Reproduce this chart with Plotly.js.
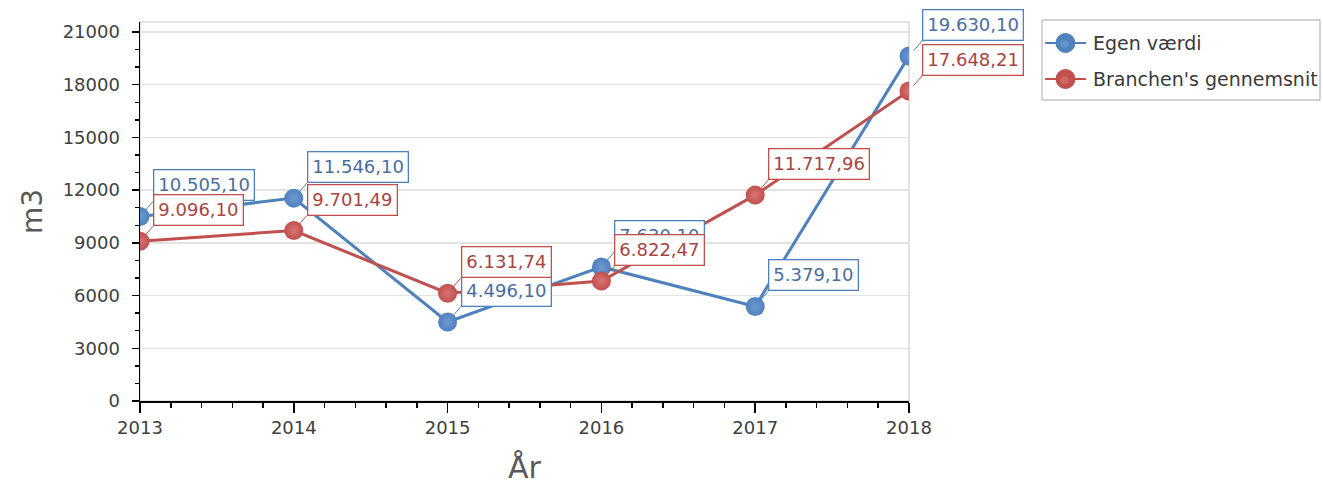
<!DOCTYPE html>
<html>
<head>
<meta charset="utf-8">
<script src="https://cdn.plot.ly/plotly-3.0.1.min.js"></script>
<style>html,body{margin:0;padding:0;background:#fff;}#chart{width:1323px;height:491px;}</style>
</head>
<body>
<div id="chart"></div>
<script>
const years = [2013, 2014, 2015, 2016, 2017, 2018];
const egenVaerdi = [10505.10, 11546.10, 4496.10, 7630.10, 5379.10, 19630.10];
const branchenSnit = [9096.10, 9701.49, 6131.74, 6822.47, 11717.96, 17648.21];
const seriesNames = ["Egen værdi", "Branchen's gennemsnit"];
const yTickVals = [0, 3000, 6000, 9000, 12000, 15000, 18000, 21000];
const yTickText = ['0', '3000', '6000', '9000', '12000', '15000', '18000', '21000'];

const BLUE = '#4F81BD', RED = '#C0504D';
const FONT = 'DejaVu Sans, Verdana, sans-serif';

// plot area geometry (pixels)
const W = 1323, H = 491;
const M = {l: 140, r: 414, t: 22, b: 90};
const PW = W - M.l - M.r, PH = H - M.t - M.b;
const px2x = p => (p - M.l) / PW;
const py2y = p => (H - M.b - p) / PH;

function fmtDK(v) {
  const parts = v.toFixed(2).split('.');
  const intPart = parts[0].replace(/\B(?=(\d{3})+(?!\d))/g, '.');
  return intPart + ',' + parts[1];
}

function trace(name, ys, color, center) {
  return {
    x: years, y: ys, name: name, type: 'scatter', mode: 'lines+markers',
    line: {color: color, width: 3},
    marker: {color: color, size: 19, gradient: {type: 'radial', color: center}, line: {width: 0}},
    cliponaxis: true, showlegend: false
  };
}

function labels(ys, color, textColor) {
  return ys.map((v, i) => ({
    x: years[i], y: v, xref: 'x', yref: 'y',
    text: fmtDK(v),
    showarrow: true, arrowhead: 0, arrowwidth: 1, arrowcolor: color,
    ax: 13, ay: -15, xanchor: 'left', yanchor: 'bottom', standoff: 7,
    bgcolor: '#ffffff', bordercolor: color, borderwidth: 1.3, borderpad: 4,
    font: {family: FONT, size: 18, color: textColor}
  }));
}

const data = [
  trace(seriesNames[0], egenVaerdi, BLUE, '#6f9bd2'),
  trace(seriesNames[1], branchenSnit, RED, '#d97571')
];

// custom legend (box, symbols, texts) placed in paper coordinates
const legendBox = {x0: 1042, x1: 1320, y0: 20, y1: 100};
const legendRows = [43, 79];
const legendColors = [BLUE, RED];
const legendCenters = ['#6f9bd2', '#d97571'];
const legShapes = [{
  type: 'rect', xref: 'paper', yref: 'paper',
  x0: px2x(legendBox.x0), x1: px2x(legendBox.x1), y0: py2y(legendBox.y1), y1: py2y(legendBox.y0),
  line: {color: '#a6a6a6', width: 1}, fillcolor: '#ffffff'
}];
const legAnn = [];
legendRows.forEach((ry, i) => {
  legShapes.push({type: 'line', xref: 'paper', yref: 'paper',
    x0: px2x(1045), x1: px2x(1086), y0: py2y(ry), y1: py2y(ry),
    line: {color: legendColors[i], width: 2}});
  legShapes.push({type: 'circle', xref: 'paper', yref: 'paper',
    x0: px2x(1056), x1: px2x(1075), y0: py2y(ry + 9.5), y1: py2y(ry - 9.5),
    line: {color: legendColors[i], width: 1}, fillcolor: legendColors[i]});
  legShapes.push({type: 'circle', xref: 'paper', yref: 'paper',
    x0: px2x(1060), x1: px2x(1069), y0: py2y(ry + 5), y1: py2y(ry - 3),
    line: {width: 0}, fillcolor: legendCenters[i], opacity: 0.6});
  legAnn.push({xref: 'paper', yref: 'paper', x: px2x(1091), y: py2y(ry),
    xanchor: 'left', yanchor: 'middle', showarrow: false, text: seriesNames[i],
    font: {family: FONT, size: 19, color: '#3a3a3a'}});
});

const layout = {
  width: W, height: H,
  margin: {l: M.l, r: M.r, t: M.t, b: M.b, pad: 0},
  paper_bgcolor: '#ffffff', plot_bgcolor: '#ffffff',
  showlegend: false,
  xaxis: {
    range: [2013, 2018], tickvals: years, ticktext: years.map(String),
    showgrid: false, zeroline: false,
    showline: true, linecolor: '#000000', linewidth: 1.5,
    ticks: 'outside', ticklen: 10, tickwidth: 1.5, tickcolor: '#000000',
    minor: {dtick: 0.2, ticks: 'outside', ticklen: 5, tickwidth: 1.5, tickcolor: '#000000', showgrid: false},
    tickfont: {family: FONT, size: 18, color: '#404040'},
    title: {text: 'År', font: {family: FONT, size: 30, color: '#595959'}, standoff: 20},
    automargin: false
  },
  yaxis: {
    range: [0, 21570], tickvals: yTickVals, ticktext: yTickText,
    showgrid: true, gridcolor: '#e3e3e3', gridwidth: 1.5, zeroline: false,
    showline: true, linecolor: '#000000', linewidth: 1.5,
    ticks: 'outside', ticklen: 7, tickwidth: 1.5, tickcolor: '#000000',
    minor: {dtick: 1000, ticks: 'outside', ticklen: 4, tickwidth: 1.5, tickcolor: '#000000', showgrid: false},
    tickfont: {family: FONT, size: 18, color: '#404040'},
    ticklabelstandoff: 8,
    title: {text: 'm3', font: {family: FONT, size: 28, color: '#595959'}, standoff: 12},
    automargin: false
  },
  shapes: [{
    type: 'rect', xref: 'paper', yref: 'paper', x0: 0, x1: 1, y0: 0, y1: 1,
    line: {color: '#d9d9d9', width: 1.5}, layer: 'below'
  }].concat(legShapes),
  annotations: labels(egenVaerdi, BLUE, '#4a6e9e').concat(labels(branchenSnit, RED, '#a84543')).concat(legAnn)
};

Plotly.newPlot('chart', data, layout, {displayModeBar: false, staticPlot: true});
</script>
</body>
</html>
